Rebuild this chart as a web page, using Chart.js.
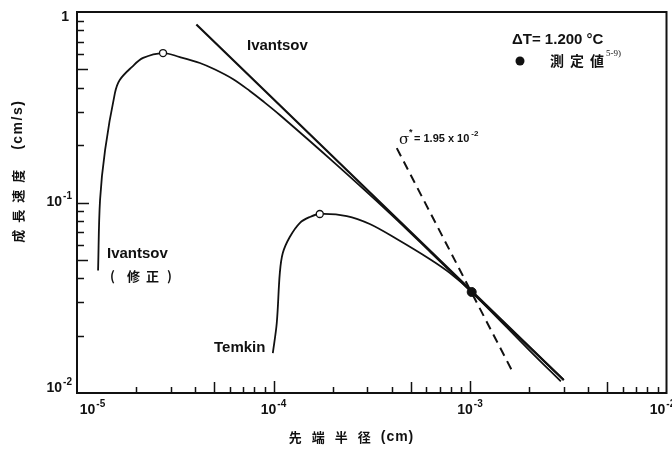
<!DOCTYPE html>
<html>
<head>
<meta charset="utf-8">
<script src="https://cdn.jsdelivr.net/npm/chart.js@4/dist/chart.umd.min.js"></script>
<style>
  body { margin: 0; background: #fff; }
  canvas { display: block; }
</style>
</head>
<body>
<canvas id="myChart" width="672" height="450"></canvas>
<script>
// tip radius R (cm) vs growth rate V (cm/s), ΔT = 1.200 °C
const rIvantsov = [4.05e-5, 3.0e-3];
const vIvantsov = [0.86, 0.0117];

const rModified = [1.28e-5, 1.31e-5, 1.39e-5, 1.56e-5, 1.65e-5, 1.9e-5, 2.17e-5, 2.74e-5,
  3.34e-5, 4.22e-5, 5.04e-5, 6.21e-5, 7.58e-5, 8.82e-5, 1.077e-4, 2.05e-4, 3.9e-4, 6.3e-4,
  1.02e-3, 3.0e-3];
const vModified = [0.044, 0.103, 0.189, 0.376, 0.44, 0.514, 0.574, 0.609,
  0.58, 0.54, 0.499, 0.445, 0.385, 0.341, 0.288, 0.161, 0.088, 0.0548,
  0.0339, 0.0117];

const rTemkin = [9.92e-5, 1.039e-4, 1.077e-4, 1.115e-4, 1.21e-4, 1.36e-4, 1.53e-4, 1.72e-4,
  2.36e-4, 3.09e-4, 4.24e-4, 6.23e-4, 7.88e-4, 1.02e-3, 2.0e-3, 2.9e-3];
const vTemkin = [0.0162, 0.0233, 0.0427, 0.0543, 0.0659, 0.078, 0.0839, 0.087,
  0.0849, 0.0771, 0.0643, 0.0505, 0.0427, 0.0339, 0.0168, 0.0115];

const rSigma = [4.24e-4, 1.63e-3];
const vSigma = [0.193, 0.0132];

const rPeaks = [2.74e-5, 1.72e-4];
const vPeaks = [0.609, 0.087];

const rMeasured = [1.02e-3];
const vMeasured = [0.0339];

const xTickValues = [1e-5, 1e-4, 1e-3, 1e-2];
const xTickExps = ["-5", "-4", "-3", "-2"];
const yTickValues = [1, 0.1, 0.01];
const yTickExps = [null, "-1", "-2"];

const INK = "#111";
const LATIN = '"Liberation Sans", Arial, sans-serif';
const CJK = '"Noto Sans CJK JP", sans-serif';

function pts(rs, vs) {
  return rs.map((r, i) => ({ x: r, y: vs[i] }));
}

function curve(rs, vs, width, dash) {
  return {
    data: pts(rs, vs),
    showLine: true,
    borderColor: INK,
    borderWidth: width,
    borderDash: dash || [],
    pointRadius: 0,
    tension: 0.35,
    fill: false,
  };
}

// "10" with a raised exponent; align is where x sits: left, center or right
function drawPow(ctx, base, exp, x, y, size, align) {
  ctx.font = `bold ${size}px ${LATIN}`;
  const wb = ctx.measureText(base).width;
  let we = 0;
  const es = Math.round(size * 0.68);
  if (exp) {
    ctx.font = `bold ${es}px ${LATIN}`;
    we = ctx.measureText(exp).width + 1;
  }
  const w = wb + we;
  let x0 = x;
  if (align === "center") x0 = x - w / 2;
  if (align === "right") x0 = x - w;
  ctx.textAlign = "left";
  ctx.textBaseline = "middle";
  ctx.font = `bold ${size}px ${LATIN}`;
  ctx.fillText(base, x0, y);
  if (exp) {
    ctx.font = `bold ${es}px ${LATIN}`;
    ctx.fillText(exp, x0 + wb + 1, y - size * 0.42);
  }
  return w;
}

// characters laid out one by one with extra gap between them
function spaced(ctx, text, x, y, gap) {
  let cx = x;
  for (const ch of text) {
    ctx.fillText(ch, cx, y);
    cx += ctx.measureText(ch).width + gap;
  }
  return cx - gap;
}

function spacedWidth(ctx, text, gap) {
  let w = 0;
  for (const ch of text) w += ctx.measureText(ch).width + gap;
  return w - gap;
}

const frameAndText = {
  id: "frameAndText",
  afterDatasetsDraw(chart) {
    const { ctx, chartArea: a } = chart;
    const xs = chart.scales.x;
    const ys = chart.scales.y;
    ctx.save();
    ctx.strokeStyle = INK;
    ctx.fillStyle = INK;
    ctx.lineWidth = 2;
    ctx.strokeRect(a.left, a.top, a.right - a.left, a.bottom - a.top);

    // inward ticks, longer at decades and at 5
    ctx.lineWidth = 1.5;
    ctx.beginPath();
    for (let d = -5; d <= -3; d++) {
      for (let m = 2; m <= 10; m++) {
        const px = Math.round(xs.getPixelForValue(m * Math.pow(10, d))) + 0.5;
        const len = m === 10 ? 12 : m === 5 ? 11 : 6;
        if (px >= a.right - 1) continue;
        ctx.moveTo(px, a.bottom);
        ctx.lineTo(px, a.bottom - len);
      }
    }
    for (let d = -2; d <= -1; d++) {
      for (let m = 2; m <= 10; m++) {
        const py = Math.round(ys.getPixelForValue(m * Math.pow(10, d))) + 0.5;
        const len = m === 10 ? 12 : m === 5 ? 11 : 7;
        if (py <= a.top + 1) continue;
        ctx.moveTo(a.left, py);
        ctx.lineTo(a.left + len, py);
      }
    }
    ctx.stroke();

    // tick labels
    xTickValues.forEach((v, i) => {
      const w = 27;
      let cx = xs.getPixelForValue(v);
      cx = Math.max(cx, a.left + w / 2 + 2);
      cx = Math.min(cx, 672 - w / 2 + 4);
      drawPow(ctx, "10", xTickExps[i], cx, a.bottom + 17, 14, "center");
    });
    yTickValues.forEach((v, i) => {
      let cy = ys.getPixelForValue(v);
      cy = Math.min(Math.max(cy, a.top + 5), a.bottom - 5);
      if (yTickExps[i]) drawPow(ctx, "10", yTickExps[i], a.left - 5, cy, 14, "right");
      else drawPow(ctx, "1", null, a.left - 8, cy, 14, "right");
    });

    // axis titles
    ctx.textBaseline = "middle";
    ctx.font = `bold 13px ${CJK}`;
    let wc = spacedWidth(ctx, "先端半径", 10);
    ctx.font = `bold 14px ${LATIN}`;
    let wl = spacedWidth(ctx, "(cm)", 1);
    let tx = 351 - (wc + 10 + wl) / 2;
    ctx.font = `bold 13px ${CJK}`;
    tx = spaced(ctx, "先端半径", tx, 437, 10) + 10;
    ctx.font = `bold 14px ${LATIN}`;
    spaced(ctx, "(cm)", tx, 437, 1);

    ctx.save();
    ctx.translate(18, 172);
    ctx.rotate(-Math.PI / 2);
    ctx.font = `bold 13px ${CJK}`;
    wc = spacedWidth(ctx, "成長速度", 7);
    ctx.font = `bold 14px ${LATIN}`;
    wl = spacedWidth(ctx, "(cm/s)", 1.5);
    tx = -(wc + 20 + wl) / 2;
    ctx.font = `bold 13px ${CJK}`;
    tx = spaced(ctx, "成長速度", tx, 0, 7) + 20;
    ctx.font = `bold 14px ${LATIN}`;
    spaced(ctx, "(cm/s)", tx, 0, 1.5);
    ctx.restore();

    // curve names and notes
    ctx.textAlign = "left";
    ctx.font = `bold 15px ${LATIN}`;
    ctx.fillText("Ivantsov", 247, 46);
    ctx.fillText("Ivantsov", 107, 254);
    ctx.fillText("Temkin", 214, 348);
    ctx.fillText("ΔT= 1.200 °C", 512, 40);

    ctx.font = `bold 13px ${CJK}`;
    ctx.fillText("(", 110, 276);
    spaced(ctx, "修正", 127, 276, 6);
    ctx.fillText(")", 167, 276);

    ctx.beginPath();
    ctx.arc(520, 61, 4.5, 0, Math.PI * 2);
    ctx.fill();
    ctx.font = `bold 14px ${CJK}`;
    const ex = spaced(ctx, "測定値", 550, 61, 6);
    ctx.font = `9px "Liberation Serif", serif`;
    ctx.fillText("5-9)", ex + 2, 54);

    ctx.font = `15px "DejaVu Serif", serif`;
    ctx.fillText("σ", 399, 140);
    ctx.font = `bold 9px ${LATIN}`;
    ctx.fillText("*", 409, 133);
    ctx.font = `bold 11px ${LATIN}`;
    ctx.fillText("= 1.95 x 10", 414, 139);
    const w10 = ctx.measureText("= 1.95 x 10").width;
    ctx.font = `bold 8px ${LATIN}`;
    ctx.fillText("-2", 414 + w10 + 2, 134);

    ctx.restore();
  },
};

const ctx = document.getElementById("myChart").getContext("2d");
const myChart = new Chart(ctx, {
  type: "scatter",
  data: {
    datasets: [
      {
        data: pts(rMeasured, vMeasured),
        pointRadius: 4.5,
        pointBackgroundColor: INK,
        pointBorderColor: INK,
        showLine: false,
      },
      {
        data: pts(rPeaks, vPeaks),
        pointRadius: 3.5,
        pointBorderWidth: 1.3,
        pointBackgroundColor: "#fff",
        pointBorderColor: INK,
        showLine: false,
      },
      curve(rIvantsov, vIvantsov, 2.2),
      curve(rModified, vModified, 1.8),
      curve(rTemkin, vTemkin, 1.8),
      curve(rSigma, vSigma, 2, [9, 6]),
    ],
  },
  options: {
    responsive: false,
    animation: false,
    layout: { padding: { left: 77, right: 5, top: 12, bottom: 57 } },
    plugins: { legend: { display: false }, tooltip: { enabled: false } },
    scales: {
      x: { type: "logarithmic", min: 1e-5, max: 1e-2, display: false },
      y: { type: "logarithmic", min: 0.01, max: 1, display: false },
    },
  },
  plugins: [frameAndText],
});
</script>
</body>
</html>
